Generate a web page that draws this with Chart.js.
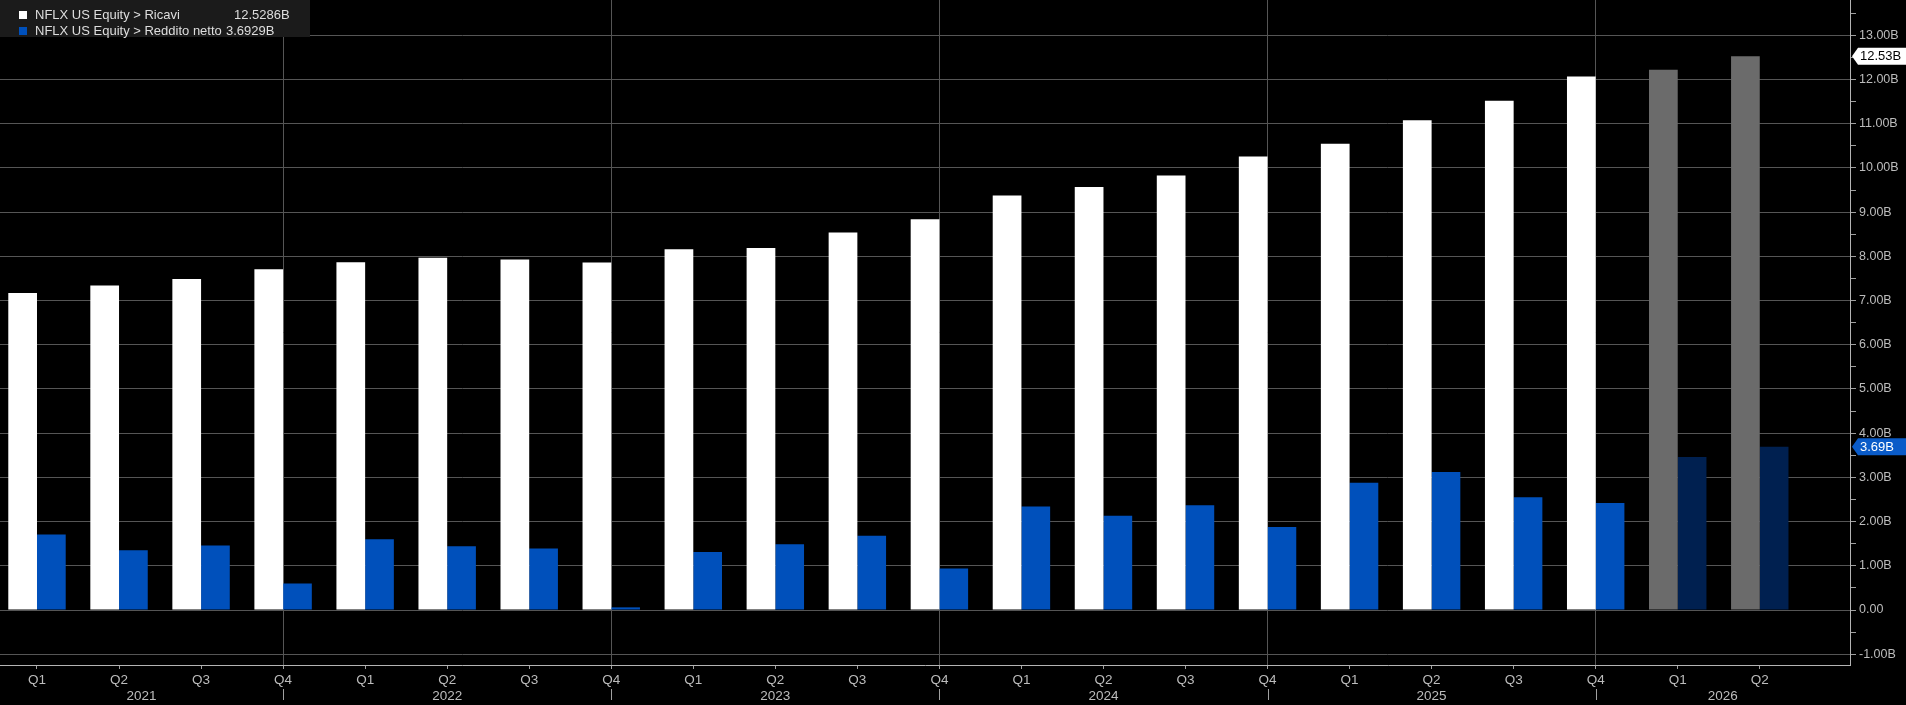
<!DOCTYPE html>
<html>
<head>
<meta charset="utf-8">
<script src="https://cdn.jsdelivr.net/npm/chart.js@4/dist/chart.umd.min.js"></script>
<style>
  html, body { margin: 0; padding: 0; background: #000; }
  #wrap { width: 1906px; height: 705px; position: relative; }
</style>
</head>
<body>
<div id="wrap"><canvas id="c" width="1906" height="705"></canvas></div>
<script>
// ---- data ----
const quarters = ['Q1','Q2','Q3','Q4','Q1','Q2','Q3','Q4','Q1','Q2','Q3','Q4','Q1','Q2','Q3','Q4','Q1','Q2','Q3','Q4','Q1','Q2'];
const years = ['2021','2022','2023','2024','2025','2026'];
const revenue = [7.17, 7.34, 7.49, 7.71, 7.87, 7.97, 7.93, 7.86, 8.16, 8.19, 8.54, 8.84, 9.38, 9.57, 9.83, 10.26, 10.55, 11.08, 11.52, 12.07, 12.22, 12.5286];
const netIncome = [1.71, 1.35, 1.46, 0.60, 1.60, 1.44, 1.39, 0.06, 1.31, 1.49, 1.68, 0.94, 2.34, 2.13, 2.37, 1.88, 2.88, 3.12, 2.55, 2.42, 3.46, 3.6929];
const estimated = [false,false,false,false,false,false,false,false,false,false,false,false,false,false,false,false,false,false,false,false,true,true];
const seriesNames = ['NFLX US Equity > Ricavi', 'NFLX US Equity > Reddito netto'];
const yTickValues = [-1,-0.5,0,0.5,1,1.5,2,2.5,3,3.5,4,4.5,5,5.5,6,6.5,7,7.5,8,8.5,9,9.5,10,10.5,11,11.5,12,12.5,13,13.5];

const FONT = "'Liberation Sans', Arial, sans-serif";
const colRev = '#ffffff', colRevEst = '#6b6b6b';
const colNet = '#0050bb', colNetEst = '#002050';

const bgPlugin = {
  id: 'bg',
  beforeDraw(chart) {
    const ctx = chart.ctx;
    ctx.save();
    ctx.fillStyle = '#000';
    ctx.fillRect(0, 0, chart.width, chart.height);
    ctx.restore();
  }
};

const overlay = {
  id: 'overlay',
  afterDraw(chart) {
    const ctx = chart.ctx;
    const xs = chart.scales.x, ys = chart.scales.y;
    const area = chart.chartArea;
    ctx.save();
    // year separators and labels
    const q4 = [];
    quarters.forEach((q, i) => { if (q === 'Q4') q4.push(xs.getPixelForValue(i)); });
    ctx.strokeStyle = '#a0a0a0';
    ctx.lineWidth = 1;
    q4.forEach(px => {
      ctx.beginPath();
      ctx.moveTo(Math.round(px) + 0.5, 689);
      ctx.lineTo(Math.round(px) + 0.5, 700);
      ctx.stroke();
    });
    const bounds = [area.left, ...q4, area.right];
    ctx.fillStyle = '#bcbcbc';
    ctx.font = '13.5px ' + FONT;
    ctx.textAlign = 'center';
    ctx.textBaseline = 'middle';
    years.forEach((y, i) => {
      const a = bounds[i], b = bounds[i + 1];
      if (a !== undefined && b !== undefined) ctx.fillText(y, (a + b) / 2, 696);
    });

    // value tags on right axis
    const tag = (val, fill, textCol) => {
      const py = ys.getPixelForValue(val);
      const x0 = area.right + 2, x1 = area.right + 8, x2 = chart.width;
      ctx.beginPath();
      ctx.moveTo(x0, py);
      ctx.lineTo(x1, py - 8.5);
      ctx.lineTo(x2, py - 8.5);
      ctx.lineTo(x2, py + 8.5);
      ctx.lineTo(x1, py + 8.5);
      ctx.closePath();
      ctx.fillStyle = fill;
      ctx.fill();
      ctx.fillStyle = textCol;
      ctx.font = '13px ' + FONT;
      ctx.textAlign = 'left';
      ctx.textBaseline = 'middle';
      ctx.fillText(val.toFixed(2) + 'B', area.right + 10, py + 0.5);
    };
    tag(revenue[revenue.length - 1], '#ffffff', '#000000');
    tag(netIncome[netIncome.length - 1], '#0a5bc8', '#ffffff');

    // legend box
    ctx.fillStyle = '#1b1b1b';
    ctx.fillRect(0, 0, 310, 37);
    const rows = [
      { name: seriesNames[0], col: colRev, val: revenue[revenue.length - 1], vx: 234, y: 15 },
      { name: seriesNames[1], col: colNet, val: netIncome[netIncome.length - 1], vx: 226, y: 31 }
    ];
    ctx.font = '13px ' + FONT;
    ctx.textAlign = 'left';
    ctx.textBaseline = 'middle';
    rows.forEach(r => {
      ctx.fillStyle = r.col;
      ctx.fillRect(19, r.y - 4, 8, 8);
      ctx.fillStyle = '#dedede';
      ctx.fillText(r.name, 35, r.y + 0.5);
      ctx.fillText(r.val.toFixed(4) + 'B', r.vx, r.y + 0.5);
    });
    ctx.restore();
  }
};

const chart = new Chart(document.getElementById('c'), {
  type: 'bar',
  data: {
    datasets: [
      {
        label: seriesNames[0],
        data: revenue.map((v, i) => ({ x: i, y: v })),
        backgroundColor: estimated.map(e => e ? colRevEst : colRev),
        borderWidth: 0
      },
      {
        label: seriesNames[1],
        data: netIncome.map((v, i) => ({ x: i, y: v })),
        backgroundColor: estimated.map(e => e ? colNetEst : colNet),
        borderWidth: 0
      }
    ]
  },
  options: {
    responsive: false,
    animation: false,
    maintainAspectRatio: false,
    layout: { padding: 0 },
    datasets: { bar: { categoryPercentage: 0.7, barPercentage: 1.0 } },
    plugins: { legend: { display: false }, tooltip: { enabled: false } },
    scales: {
      x: {
        type: 'linear',
        offset: false,
        min: -0.451,
        max: 22.10,
        afterBuildTicks: s => { s.ticks = quarters.map((q, i) => ({ value: i })); },
        afterFit: s => { s.height = 40; s.paddingLeft = 0; s.paddingRight = 0; },
        grid: {
          offset: false,
          color: c => (c.tick && quarters[c.tick.value] === 'Q4') ? '#555555' : 'rgba(0,0,0,0)',
          tickColor: '#a0a0a0',
          tickLength: 4,
          drawOnChartArea: true
        },
        border: { color: '#b4b4b4', width: 1 },
        ticks: {
          color: '#bcbcbc',
          font: { size: 13.5, family: FONT },
          padding: 3,
          maxRotation: 0,
          autoSkip: false,
          callback: v => quarters[v] !== undefined ? quarters[v] : ''
        }
      },
      y: {
        position: 'right',
        min: -1.244,
        max: 13.8,
        afterBuildTicks: s => { s.ticks = yTickValues.map(v => ({ value: v })); },
        afterFit: s => { s.width = 56; s.paddingTop = 0; s.paddingBottom = 0; },
        grid: {
          color: c => (c.tick && Number.isInteger(c.tick.value)) ? '#555555' : 'rgba(0,0,0,0)',
          tickColor: '#a0a0a0',
          tickLength: 6
        },
        border: { color: '#b4b4b4', width: 1 },
        ticks: {
          color: '#bcbcbc',
          font: { size: 12.5, family: FONT },
          padding: 3,
          autoSkip: false,
          callback: v => Number.isInteger(v) ? (v === 0 ? '0.00' : v.toFixed(2) + 'B') : ''
        }
      }
    }
  },
  plugins: [bgPlugin, overlay]
});
</script>
</body>
</html>
